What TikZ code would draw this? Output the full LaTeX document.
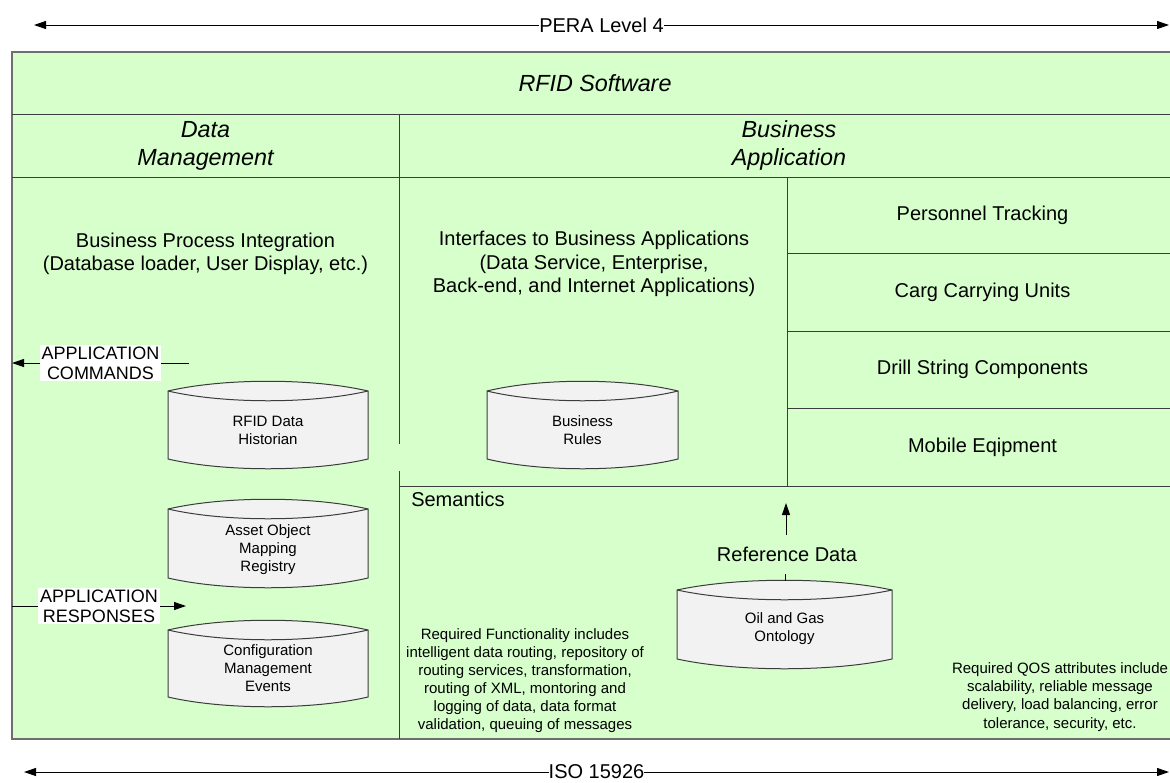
\documentclass[tikz,border=0pt]{standalone}
\usepackage{fontspec}
\setmainfont{Liberation Sans}
\usetikzlibrary{arrows.meta}

\definecolor{panel}{RGB}{214,255,204}
\definecolor{drumfill}{RGB}{242,242,242}
\definecolor{rulecol}{RGB}{60,60,60}
\definecolor{framecol}{RGB}{110,110,110}

% database drum: left x, right x, y of top corners, y of bottom corners
\newcommand\drawdrum[4]{%
  \pgfmathsetmacro\qa{#1+0.28*(#2-#1)}%
  \pgfmathsetmacro\qb{#2-0.28*(#2-#1)}%
  \filldraw[drumline] (#1,#3) .. controls (\qa,#3-13) and (\qb,#3-13) .. (#2,#3)
     -- (#2,#4) .. controls (\qb,#4+13) and (\qa,#4+13) .. (#1,#4) -- cycle;
  \draw[drumline] (#1,#3) .. controls (\qa,#3+13) and (\qb,#3+13) .. (#2,#3);
}

\tikzset{
  rules/.style={draw=rulecol, line width=0.75pt},
  drumline/.style={draw=rulecol, fill=drumfill, line width=0.75pt},
  conn/.style={draw=black, line width=0.75pt},
  tip/.style={-{Triangle[length=9pt,width=6pt]}},
  bothtips/.style={{Triangle[length=9pt,width=6pt]}-{Triangle[length=9pt,width=6pt]}},
  headtext/.style={font=\fontsize{17.5pt}{21pt}\selectfont\itshape, align=center},
  bodytext/.style={font=\fontsize{15pt}{17.6pt}\selectfont, align=center},
  drumtext/.style={font=\fontsize{11.25pt}{13.6pt}\selectfont, align=center},
  notetext/.style={font=\fontsize{11.25pt}{13.6pt}\selectfont, align=center},
  cmdbox/.style={fill=white, inner sep=1.5pt, font=\fontsize{13.5pt}{15pt}\selectfont, align=center},
  scalelabel/.style={fill=white, inner xsep=0pt, inner ysep=1pt, font=\fontsize{15pt}{17pt}\selectfont},
}

\begin{document}
\begin{tikzpicture}[x=0.75pt, y=-0.75pt]
\useasboundingbox (0,0) rectangle (1170,782);

% outer panel
\fill[white] (0,0) rectangle (1170,782);
\filldraw[fill=panel, draw=framecol, line width=1.5pt] (12,52) rectangle (1178,739);

% grid of the panel
\draw[rules] (12,114) -- (1178,114);
\draw[rules] (399,114) -- (399,177);
\draw[rules] (12,177) -- (1178,177);
\draw[rules] (399,177) -- (399,444);
\draw[rules] (399,471) -- (399,739);
\draw[rules] (787,177) -- (787,486);
\draw[rules] (787,253) -- (1178,253);
\draw[rules] (787,331) -- (1178,331);
\draw[rules] (787,408) -- (1178,408);
\draw[rules] (399,486) -- (1178,486);

% scale arrows
\coordinate (peraL) at (34,25);
\coordinate (peraR) at (1169,25);
\draw[conn, bothtips] (peraL) -- (peraR) node[midway, scalelabel] (pera) {PERA Level 4};
\coordinate (isoL) at (24,772);
\coordinate (isoR) at (1169,772);
\draw[conn, bothtips] (isoL) -- (isoR) node[midway, scalelabel] (iso) {ISO 15926};

% headings
\node[headtext] (rfidsw) at (595,83) {RFID Software};
\node[headtext] (datamgmt) at (205.5,145.5) {Data\\Management};
\node[headtext] (bizapp) at (789,145.5) {Business\\Application};

% body texts
\node[bodytext] (bpi) at (205.5,254) {Business Process Integration\\(Database loader, User Display, etc.)};
\node[bodytext] (ifc) at (594,264) {Interfaces to Business Applications\\(Data Service, Enterprise,\\Back-end, and Internet Applications)};
\node[bodytext] (personnel) at (982.5,215) {Personnel Tracking};
\node[bodytext] (cargo) at (982.5,292) {Carg Carrying Units};
\node[bodytext] (drill) at (982.5,369.5) {Drill String Components};
\node[bodytext] (mobile) at (982.5,447) {Mobile Eqipment};
\node[bodytext, anchor=base west, inner sep=0pt] (semantics) at (411,506) {Semantics};

% databases
\drawdrum{168}{368}{391}{459}
\node[drumtext] (historian) at (268,430) {RFID Data\\Historian};
\drawdrum{168}{368}{509}{578}
\node[drumtext] (registry) at (268,549.5) {Asset Object\\Mapping\\Registry};
\drawdrum{168}{368}{630}{697}
\node[drumtext] (config) at (268,668) {Configuration\\Management\\Events};
\drawdrum{487}{678}{391}{459}
\node[drumtext] (brules) at (582.5,430) {Business\\Rules};
\drawdrum{677}{892}{590}{659}
\node[drumtext] (ontology) at (784.5,629) {Oil and Gas\\Ontology};

% reference data flow
\coordinate (ontoTop) at (785,581);
\coordinate (semTip) at (786,503);
\node[bodytext, minimum height=29pt, inner ysep=0pt] (refdata) at (787,554.5) {Reference Data};
\draw[conn] (ontoTop) -- (ontoTop |- refdata.south);
\draw[conn, tip] (semTip |- refdata.north) -- (semTip);

% application messages
\coordinate (cmdFrom) at (189,363);
\coordinate (cmdTo) at (12,363);
\draw[conn, tip] (cmdFrom) -- (cmdTo) node[midway, cmdbox] (cmds) {APPLICATION\\COMMANDS};
\coordinate (respFrom) at (12,606);
\coordinate (respTo) at (186,606);
\draw[conn, tip] (respFrom) -- (respTo) node[midway, cmdbox] (resps) {APPLICATION\\RESPONSES};

% notes
\node[notetext] (reqfunc) at (525,680.5) {Required Functionality includes\\intelligent data routing, repository of\\routing services, transformation,\\routing of XML, montoring and\\logging of data, data format\\validation, queuing of messages};
\node[notetext] (qos) at (1060,697) {Required QOS attributes include\\scalability, reliable message\\delivery, load balancing, error\\tolerance, security, etc.};
\end{tikzpicture}
\end{document}
